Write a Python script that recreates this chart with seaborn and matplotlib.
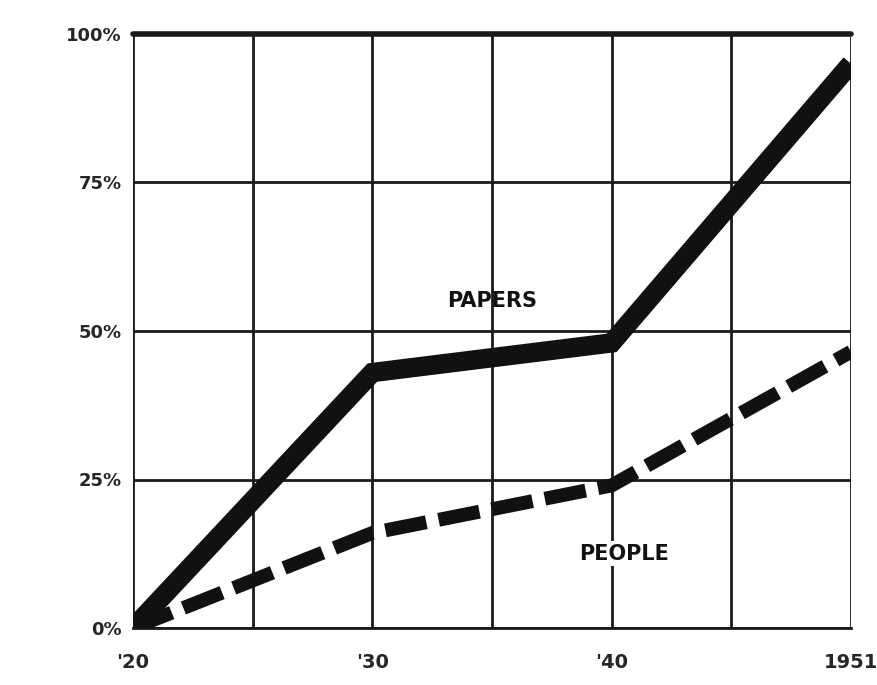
import matplotlib
matplotlib.use("Agg")
import matplotlib.pyplot as plt
import seaborn as sns
import pandas as pd
import numpy as np

years = ["'20", "'30", "'40", "1951"]
papers = [0, 43, 48, 95]
people = [0, 16, 24, 46.5]
y_ticks = [0, 25, 50, 75, 100]
y_labels = ["0%", "25%", "50%", "75%", "100%"]

sns.set_theme(style="white")
plt.rcParams['font.family'] = ['DejaVu Sans']

fig = plt.figure(figsize=(8.77, 6.85), dpi=100)
ax = fig.add_axes([0.1517, 0.0832, 0.8186, 0.8672])

pos = np.arange(len(years))
df = pd.DataFrame({"x": np.concatenate([pos, pos]),
                   "y": papers + people,
                   "series": ["PAPERS"] * len(years) + ["PEOPLE"] * len(years)})

sns.lineplot(data=df[df.series == "PAPERS"], x="x", y="y", color="#111111",
             linewidth=14, ax=ax, solid_capstyle="butt", solid_joinstyle="miter", zorder=5)
sns.lineplot(data=df[df.series == "PEOPLE"], x="x", y="y", color="#111111",
             linewidth=10, ax=ax, zorder=5)
ax.lines[-1].set_dashes([3.0, 0.9])
ax.lines[-1].set_dash_capstyle("butt")

ax.set_xlim(0, 3)
ax.set_ylim(0, 100)
ax.set_xticks(pos)
ax.set_xticklabels(years, fontsize=14, fontweight="bold")
ax.set_xticks(pos[:-1] + 0.5, minor=True)
ax.set_yticks(y_ticks)
ax.set_yticklabels(y_labels, fontsize=13, fontweight="bold")
ax.grid(True, which="major", color="#1a1a1a", linewidth=2)
ax.grid(True, which="minor", axis="x", color="#1a1a1a", linewidth=2)
ax.tick_params(axis="y", which="both", length=0, pad=8)
ax.tick_params(axis="x", which="both", length=0, pad=18)
ax.set_xlabel("")
ax.set_ylabel("")
for s in ["top", "right", "left"]:
    ax.spines[s].set_visible(False)
ax.spines["bottom"].set_color("#1a1a1a")
ax.spines["bottom"].set_linewidth(2)
ax.axhline(100, color="#1a1a1a", linewidth=4, clip_on=False)

ax.text(1.5, 55, "PAPERS", fontsize=15, fontweight="bold", ha="center", va="center",
        color="#111111", zorder=6)
ax.text(2.05, 12.5, "PEOPLE", fontsize=15, fontweight="bold", ha="center", va="center",
        color="#111111", zorder=6,
        bbox=dict(facecolor="white", edgecolor="none", pad=2))

fig.savefig("out.png", dpi=100, facecolor="white")
